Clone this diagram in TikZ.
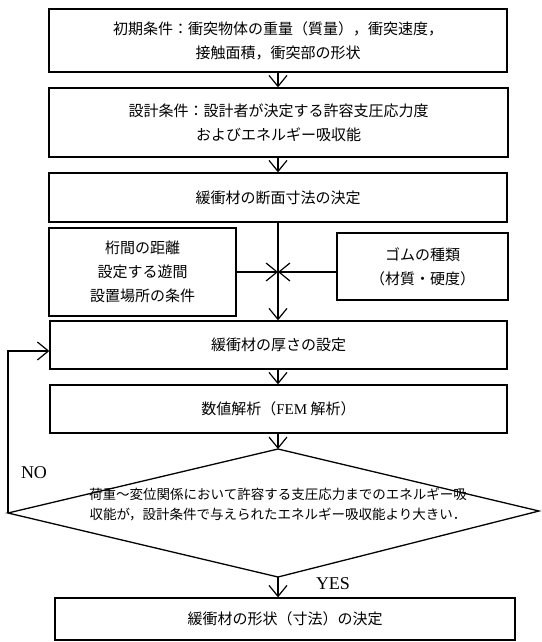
\documentclass[tikz,border=0pt]{standalone}
\usepackage{fontspec}
\setmainfont{Noto Sans CJK JP}
\newfontfamily\lat{Liberation Serif}
\usetikzlibrary{arrows.meta}
\begin{document}
\begin{tikzpicture}[x=1pt,y=-1pt,
  box/.style={draw, line width=1.3pt, rectangle, inner sep=0pt, align=center,
              font=\fontsize{15}{24}\selectfont},
  arr/.style={line width=1.2pt, -{Straight Barb[length=11pt,width=18pt]}},
  lbl/.style={font=\lat\fontsize{18}{20}\selectfont, inner sep=0pt},
  dtext/.style={align=center, inner sep=0pt, font=\fontsize{13.5}{20}\selectfont}]
\useasboundingbox (0,0) rectangle (541,642);
% boxes
\node[box, minimum width=458pt, minimum height=63pt] (b1) at (278,40.5)
  {初期条件：衝突物体の重量（質量），衝突速度，\\接触面積，衝突部の形状};
\node[box, minimum width=459pt, minimum height=69pt] (b2) at (278.5,122.5)
  {設計条件：設計者が決定する許容支圧応力度\\およびエネルギー吸収能};
\node[box, minimum width=458pt, minimum height=49pt] (b3) at (278,197.5)
  {緩衝材の断面寸法の決定};
\node[box, minimum width=187pt, minimum height=88pt] (lb) at (142.5,272)
  {桁間の距離\\設定する遊間\\設置場所の条件};
\node[box, minimum width=171pt, minimum height=67pt] (rb) at (422.5,266.5)
  {ゴムの種類\\（材質・硬度）};
\node[box, minimum width=457pt, minimum height=48pt] (b4) at (278.5,345)
  {緩衝材の厚さの設定};
\node[box, minimum width=457pt, minimum height=48pt] (b5) at (278.5,409)
  {数値解析（{\lat FEM} 解析）};
\node[box, minimum width=460pt, minimum height=42pt] (fin) at (285,619)
  {緩衝材の形状（寸法）の決定};
% decision
\coordinate (dt) at (278,449);
\coordinate (dl) at (8,513);
\coordinate (dr) at (539,511);
\coordinate (db) at (278,577);
\draw[line width=1.3pt] (dt) -- (dr) -- (db) -- (dl) -- cycle;
\node[dtext] (dtx) at (278,504)
  {荷重～変位関係において許容する支圧応力までのエネルギー吸\\収能が，設計条件で与えられたエネルギー吸収能より大きい．};
% connectors
\coordinate (x) at (278,272);
\coordinate (lp) at (8,351);
\draw[arr] (b1.south -| dt) -- (b2.north -| dt);
\draw[arr] (b2.south -| dt) -- (b3.north -| dt);
\draw[arr] (b3.south -| dt) -- (b4.north -| dt);
\draw[arr] (lb.east) -- (x);
\draw[arr] (rb.west |- x) -- (x);
\draw[arr] (b4.south -| dt) -- (b5.north -| dt);
\draw[arr] (b5.south -| dt) -- (dt);
\draw[arr] (db) -- (fin.north -| db);
\draw[arr] (dl) -- (lp) -- (lp -| b4.west);
% labels
\node[lbl] (no) at (34,473) {NO};
\node[lbl] (yes) at (333,584) {YES};
\end{tikzpicture}
\end{document}
